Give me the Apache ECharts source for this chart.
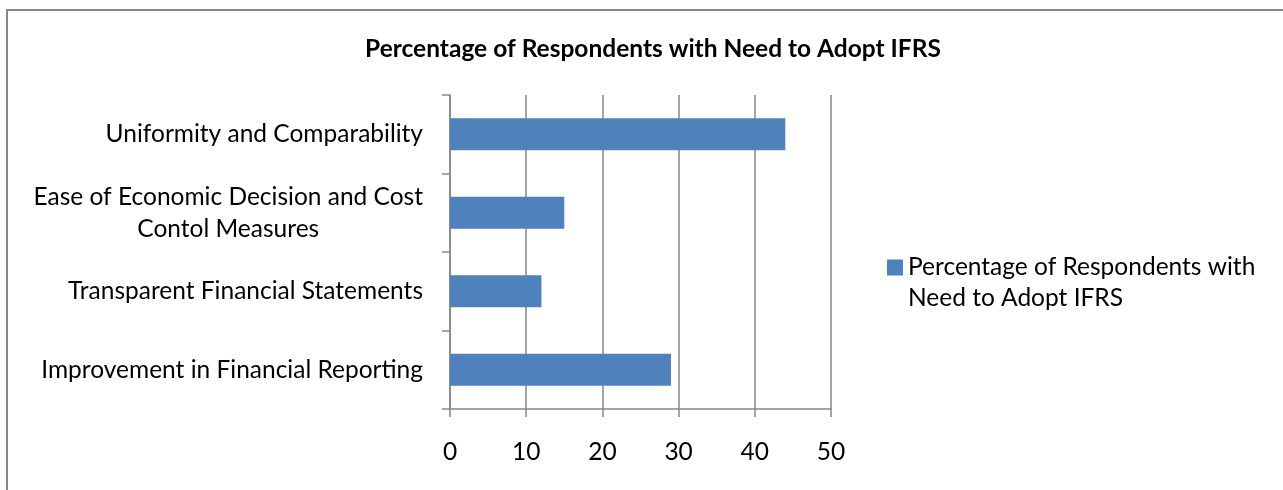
<!DOCTYPE html>
<html><head><meta charset="utf-8">
<script src="https://cdn.jsdelivr.net/npm/echarts@6/dist/echarts.min.js"></script>
<style>html,body{margin:0;padding:0;background:#fff}#c{width:1283px;height:490px}</style>
</head><body><div id="c"></div>
<script>
const categories = ['Uniformity and Comparability', 'Ease of Economic Decision and Cost\nContol Measures', 'Transparent Financial Statements', 'Improvement in Financial Reporting'];
const values = [44, 15, 12, 29];
const seriesName = 'Percentage of Respondents with Need to Adopt IFRS';
const xTicks = [0, 10, 20, 30, 40, 50];

const FONT = 'Lato';
const FS = 24.5;
const chart = echarts.init(document.getElementById('c'), null, {renderer: 'canvas'});
chart.setOption({
  backgroundColor: '#fff',
  animation: false,
  title: {
    text: seriesName, left: 648, textAlign: 'center', top: 32,
    textStyle: {fontFamily: FONT, fontWeight: 'bold', fontSize: 24.5, color: '#000'}
  },
  graphic: [{
    type: 'rect', shape: {x: 7, y: 10, width: 1400, height: 600},
    style: {fill: 'none', stroke: '#878787', lineWidth: 2}, silent: true
  }],
  legend: {
    left: 887, top: 252, padding: 0, itemWidth: 16, itemHeight: 47,
    icon: 'path://M0,0L16,0L16,16L0,16Z M0,46.9 L0.01,47 L0,47 Z',
    formatter: () => 'Percentage of Respondents with\nNeed to Adopt IFRS',
    textStyle: {fontFamily: FONT, fontSize: FS, color: '#000', lineHeight: 31}
  },
  grid: {left: 450, right: 452, top: 95, bottom: 81, containLabel: false},
  xAxis: {
    type: 'value', min: xTicks[0], max: xTicks[xTicks.length - 1], interval: 10,
    axisLine: {show: true, lineStyle: {color: '#868686', width: 1.5}},
    axisTick: {show: true, length: 8, lineStyle: {color: '#868686', width: 1.5}},
    splitLine: {show: true, lineStyle: {color: '#868686', width: 1.5}},
    axisLabel: {fontFamily: FONT, fontSize: FS, color: '#000', margin: 31}
  },
  yAxis: {
    type: 'category', data: categories, inverse: true,
    axisLine: {show: true, lineStyle: {color: '#868686', width: 1.5}},
    axisTick: {show: true, length: 8, lineStyle: {color: '#868686', width: 1.5}},
    axisLabel: {
      fontFamily: FONT, fontSize: FS, color: '#000', margin: 27, lineHeight: 32,
      formatter: v => v.split('\n').map(s => '{c|' + s + '}').join('\n'),
      rich: {c: {align: 'center', fontFamily: FONT, fontSize: FS, color: '#000', lineHeight: 32}}
    }
  },
  series: [{
    name: seriesName, type: 'bar', data: values, barWidth: 32,
    itemStyle: {color: '#4F81BD'}
  }]
});
</script></body></html>
